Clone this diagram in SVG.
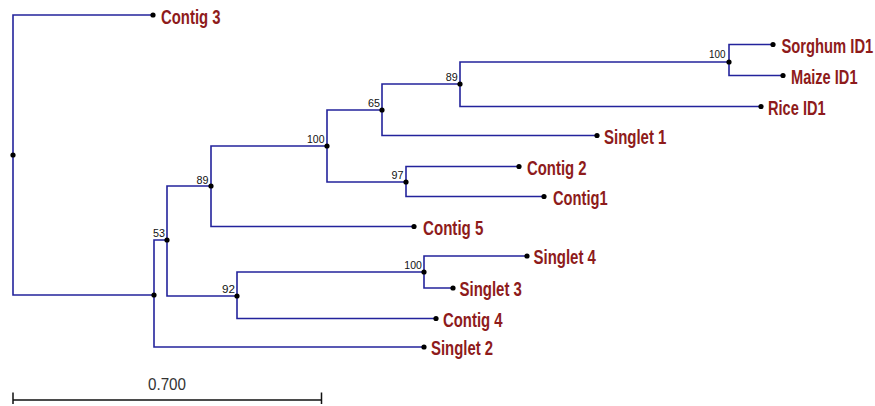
<svg xmlns="http://www.w3.org/2000/svg" width="875" height="406" viewBox="0 0 875 406">
  <style>
    .br { fill: none; stroke: #23239c; stroke-width: 1.6; stroke-linecap: square; }
    .dot { fill: #000; }
    .leaf { font-family: "Liberation Sans", Arial, sans-serif; font-weight: bold; font-size: 20px; fill: #8e1b1b; }
    .bs { font-family: "Liberation Sans", Arial, sans-serif; font-size: 11px; fill: #111; text-anchor: end; }
    .scale { fill: none; stroke: #111; stroke-width: 1.5; }
    .scale-label { font-family: "Liberation Sans", Arial, sans-serif; font-size: 17px; fill: #333; }
  </style>

  <!-- branches: each path runs from the parent node down/up then across to the child -->
  <g id="connectors">
    <path class="br" d="M13 155 V15 H153"/>
    <path class="br" d="M13 155 V295 H154"/>
    <path class="br" d="M154 295 V240 H167"/>
    <path class="br" d="M154 295 V347 H424"/>
    <path class="br" d="M167 240 V186 H211"/>
    <path class="br" d="M167 240 V296 H237"/>
    <path class="br" d="M211 186 V146 H327"/>
    <path class="br" d="M211 186 V226.5 H414"/>
    <path class="br" d="M327 146 V110 H382"/>
    <path class="br" d="M327 146 V182 H406"/>
    <path class="br" d="M382 110 V84 H460"/>
    <path class="br" d="M382 110 V135.5 H597"/>
    <path class="br" d="M460 84 V62 H729"/>
    <path class="br" d="M460 84 V106.5 H761"/>
    <path class="br" d="M729 62 V44.5 H773"/>
    <path class="br" d="M729 62 V75.5 H783"/>
    <path class="br" d="M406 182 V166.5 H519"/>
    <path class="br" d="M406 182 V196.5 H544"/>
    <path class="br" d="M237 296 V272 H424"/>
    <path class="br" d="M237 296 V318.5 H436"/>
    <path class="br" d="M424 272 V256 H527"/>
    <path class="br" d="M424 272 V288 H453"/>
  </g>

  <!-- internal nodes with bootstrap support -->
  <g id="node-root"><circle class="dot" cx="13" cy="155" r="2.6"/></g>
  <g id="node-a"><circle class="dot" cx="154" cy="295" r="2.6"/></g>
  <g id="node-53"><circle class="dot" cx="167" cy="240" r="2.6"/><text class="bs" x="165" y="237" textLength="12" lengthAdjust="spacingAndGlyphs">53</text></g>
  <g id="node-89a"><circle class="dot" cx="211" cy="186" r="2.6"/><text class="bs" x="208.5" y="183.5" textLength="12" lengthAdjust="spacingAndGlyphs">89</text></g>
  <g id="node-100a"><circle class="dot" cx="327" cy="146" r="2.6"/><text class="bs" x="324.5" y="142.8" textLength="17.5" lengthAdjust="spacingAndGlyphs">100</text></g>
  <g id="node-65"><circle class="dot" cx="382" cy="110" r="2.6"/><text class="bs" x="380" y="106.8" textLength="12" lengthAdjust="spacingAndGlyphs">65</text></g>
  <g id="node-89b"><circle class="dot" cx="460" cy="84" r="2.6"/><text class="bs" x="457.8" y="80.8" textLength="12" lengthAdjust="spacingAndGlyphs">89</text></g>
  <g id="node-100b"><circle class="dot" cx="729" cy="62" r="2.6"/><text class="bs" x="725.5" y="57.5" textLength="16.5" lengthAdjust="spacingAndGlyphs">100</text></g>
  <g id="node-97"><circle class="dot" cx="406" cy="182" r="2.6"/><text class="bs" x="403.5" y="179.3" textLength="12" lengthAdjust="spacingAndGlyphs">97</text></g>
  <g id="node-92"><circle class="dot" cx="237" cy="296" r="2.6"/><text class="bs" x="235" y="292.5" textLength="13" lengthAdjust="spacingAndGlyphs">92</text></g>
  <g id="node-100c"><circle class="dot" cx="424" cy="272" r="2.6"/><text class="bs" x="421.8" y="269.3" textLength="17.5" lengthAdjust="spacingAndGlyphs">100</text></g>

  <!-- leaves: labels are set in a condensed bold face (horizontal scale 0.745) -->
  <g id="leaf-contig3"><circle class="dot" cx="153" cy="15" r="2.6"/><text class="leaf" transform="translate(161 23.5) scale(0.745 1)">Contig 3</text></g>
  <g id="leaf-sorghum"><circle class="dot" cx="773" cy="44.5" r="2.6"/><text class="leaf" transform="translate(781.5 52.5) scale(0.738 1)">Sorghum ID1</text></g>
  <g id="leaf-maize"><circle class="dot" cx="783" cy="75.5" r="2.6"/><text class="leaf" transform="translate(791 83.5) scale(0.73 1)">Maize ID1</text></g>
  <g id="leaf-rice"><circle class="dot" cx="761" cy="106.5" r="2.6"/><text class="leaf" transform="translate(768 114.5) scale(0.73 1)">Rice ID1</text></g>
  <g id="leaf-singlet1"><circle class="dot" cx="597" cy="135.5" r="2.6"/><text class="leaf" transform="translate(604 143.5) scale(0.75 1)">Singlet 1</text></g>
  <g id="leaf-contig2"><circle class="dot" cx="519" cy="166.5" r="2.6"/><text class="leaf" transform="translate(527 174.5) scale(0.745 1)">Contig 2</text></g>
  <g id="leaf-contig1"><circle class="dot" cx="544" cy="196.5" r="2.6"/><text class="leaf" transform="translate(553 204.5) scale(0.735 1)">Contig1</text></g>
  <g id="leaf-contig5"><circle class="dot" cx="414" cy="226.5" r="2.6"/><text class="leaf" transform="translate(423 234.5) scale(0.755 1)">Contig 5</text></g>
  <g id="leaf-singlet4"><circle class="dot" cx="527" cy="256" r="2.6"/><text class="leaf" transform="translate(533.5 264) scale(0.75 1)">Singlet 4</text></g>
  <g id="leaf-singlet3"><circle class="dot" cx="453" cy="288" r="2.6"/><text class="leaf" transform="translate(459.5 296) scale(0.75 1)">Singlet 3</text></g>
  <g id="leaf-contig4"><circle class="dot" cx="436" cy="318.5" r="2.6"/><text class="leaf" transform="translate(443 326.5) scale(0.745 1)">Contig 4</text></g>
  <g id="leaf-singlet2"><circle class="dot" cx="424" cy="347" r="2.6"/><text class="leaf" transform="translate(431 355) scale(0.745 1)">Singlet 2</text></g>

  <!-- scale bar -->
  <g id="scale-bar">
    <path class="scale" d="M13 400 H321.5 M13 392.5 V404 M321.5 392.5 V404"/>
    <text class="scale-label" x="148" y="390" textLength="38" lengthAdjust="spacingAndGlyphs">0.700</text>
  </g>
</svg>
